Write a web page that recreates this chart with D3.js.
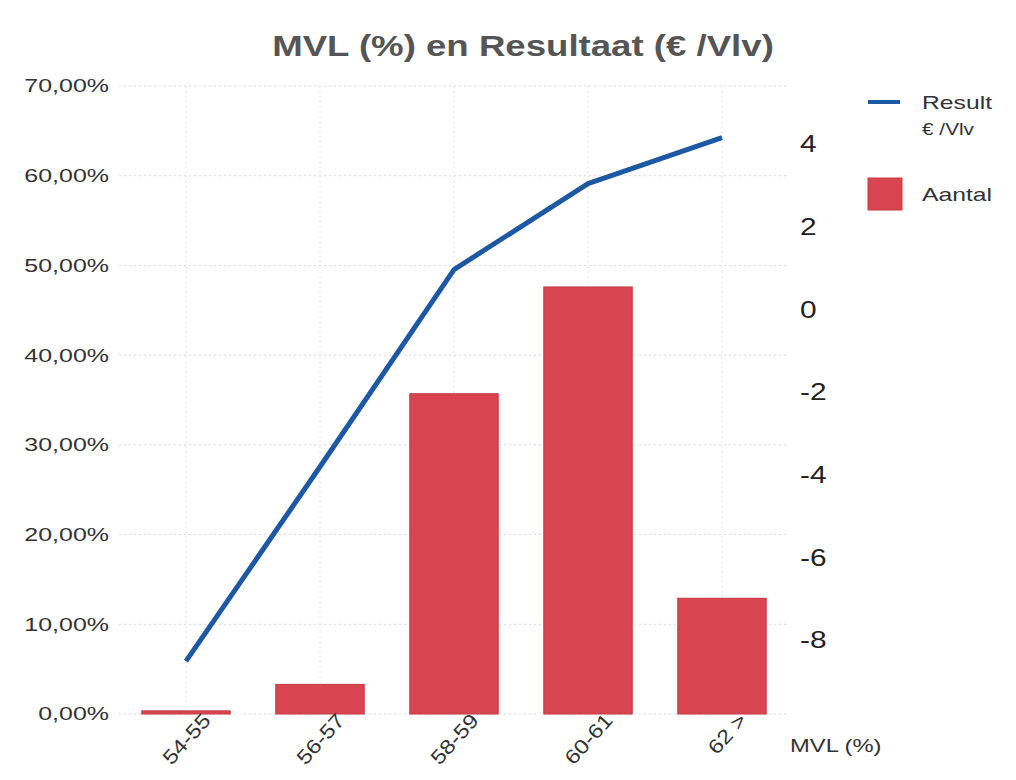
<!DOCTYPE html>
<html>
<head>
<meta charset="utf-8">
<script src="https://cdn.jsdelivr.net/npm/d3@7"></script>
<style>
  body { margin: 0; background: #fff; }
  text { font-family: "Liberation Sans", Arial, sans-serif; }
</style>
</head>
<body>
<div id="chart"></div>
<script>
// categories and values
var categories = ["54-55", "56-57", "58-59", "60-61", "62 >"];
var aantal = [0.0035, 0.033, 0.357, 0.476, 0.129];   // share, left axis
var result = [-8.5, -3.8, 0.97, 3.05, 4.16];          // € /Vlv, right axis
var leftTicks = [0, 0.1, 0.2, 0.3, 0.4, 0.5, 0.6, 0.7];
var rightTicks = [-8, -6, -4, -2, 0, 2, 4];

var width = 1016, height = 780;
var plot = { left: 119, right: 789, top: 86, bottom: 714 };

var svg = d3.select("#chart").append("svg")
    .attr("width", width)
    .attr("height", height);

var x = d3.scaleBand().domain(categories)
    .range([plot.left, plot.right]).paddingInner(0.34).paddingOuter(0.17);
var yLeft = d3.scaleLinear().domain([0, 0.7]).range([plot.bottom, plot.top]);
var yRight = d3.scaleLinear().domain([-9.78, 5.41]).range([plot.bottom, plot.top]);

var pct = function (d) { return d3.format(".2f")(d * 100).replace(".", ",") + "%"; };

// the source picture is a bit wide, so the text is stretched sideways
function stretch(sel, k) {
    sel.each(function () {
        var w = this.getComputedTextLength();
        d3.select(this).attr("textLength", w * k).attr("lengthAdjust", "spacingAndGlyphs");
    });
}

// faint dotted grid
var grid = svg.append("g").attr("class", "grid");
grid.selectAll("line.h").data(leftTicks).enter().append("line")
    .attr("class", "h")
    .attr("x1", plot.left).attr("x2", plot.right)
    .attr("y1", function (d) { return yLeft(d); })
    .attr("y2", function (d) { return yLeft(d); })
    .attr("stroke", "#d8d8d8").attr("stroke-width", 1)
    .attr("stroke-dasharray", "2,3");
grid.selectAll("line.v").data(categories).enter().append("line")
    .attr("class", "v")
    .attr("x1", function (d) { return x(d) + x.bandwidth() / 2; })
    .attr("x2", function (d) { return x(d) + x.bandwidth() / 2; })
    .attr("y1", plot.top).attr("y2", plot.bottom)
    .attr("stroke", "#e2e2e2").attr("stroke-width", 1)
    .attr("stroke-dasharray", "2,3");

// bars
svg.append("g").selectAll("rect").data(aantal).enter().append("rect")
    .attr("x", function (d, i) { return x(categories[i]); })
    .attr("y", function (d) { return yLeft(d); })
    .attr("width", x.bandwidth())
    .attr("height", function (d) { return Math.max(yLeft(0) - yLeft(d), 3); })
    .attr("fill", "#d8444f")
    .attr("stroke", "#c43a45").attr("stroke-width", 1);

// line
var line = d3.line()
    .x(function (d, i) { return x(categories[i]) + x.bandwidth() / 2; })
    .y(function (d) { return yRight(d); });
svg.append("path").datum(result)
    .attr("d", line)
    .attr("fill", "none")
    .attr("stroke", "#1d58a4")
    .attr("stroke-width", 5)
    .attr("stroke-linejoin", "round");

// left axis
var leftAxis = d3.axisLeft(yLeft).tickValues(leftTicks).tickFormat(pct).tickSize(0).tickPadding(10);
var gl = svg.append("g").attr("transform", "translate(" + plot.left + ",0)").call(leftAxis);
gl.select(".domain").remove();
gl.selectAll("text").attr("font-size", 18.5).attr("fill", "#333")
    .attr("font-family", "Liberation Sans, Arial, sans-serif");
stretch(gl.selectAll("text"), 1.35);

// right axis, plain hyphen for the minus
var rightAxis = d3.axisRight(yRight).tickValues(rightTicks)
    .tickFormat(function (d) { return String(d); }).tickSize(0).tickPadding(11);
var gr = svg.append("g").attr("transform", "translate(" + plot.right + ",0)").call(rightAxis);
gr.select(".domain").remove();
gr.selectAll("text").attr("font-size", 23).attr("fill", "#222")
    .attr("font-family", "Liberation Sans, Arial, sans-serif");
stretch(gr.selectAll("text"), 1.3);

// bottom axis, rotated labels
var bottomAxis = d3.axisBottom(x).tickSize(0).tickPadding(16);
var gb = svg.append("g").attr("transform", "translate(0," + plot.bottom + ")").call(bottomAxis);
gb.select(".domain").remove();
gb.selectAll("text")
    .attr("font-size", 20).attr("fill", "#333")
    .attr("font-family", "Liberation Sans, Arial, sans-serif")
    .style("text-anchor", "end")
    .attr("dx", "0.6em").attr("dy", "0.4em")
    .attr("transform", "rotate(-48)");
stretch(gb.selectAll("text"), 1.18);

var xTitle = svg.append("text")
    .attr("x", 790).attr("y", 752)
    .attr("font-size", 19).attr("fill", "#333")
    .text("MVL (%)");
stretch(xTitle, 1.25);

// title
var title = svg.append("text")
    .attr("x", 523).attr("y", 56)
    .attr("text-anchor", "middle")
    .attr("font-size", 30).attr("font-weight", "bold").attr("fill", "#555")
    .text("MVL (%) en Resultaat (€ /Vlv)");
stretch(title, 1.22);

// legend
var legend = svg.append("g");
legend.append("line")
    .attr("x1", 868).attr("x2", 900).attr("y1", 102).attr("y2", 102)
    .attr("stroke", "#1d58a4").attr("stroke-width", 4);
legend.append("text").attr("x", 922).attr("y", 109)
    .attr("font-size", 19).attr("fill", "#333").text("Result");
legend.append("text").attr("x", 922).attr("y", 135)
    .attr("font-size", 16).attr("fill", "#333").text("€ /Vlv");
legend.append("rect")
    .attr("x", 868).attr("y", 178).attr("width", 34).attr("height", 32)
    .attr("fill", "#d8444f").attr("stroke", "#c43a45");
legend.append("text").attr("x", 922).attr("y", 201)
    .attr("font-size", 19).attr("fill", "#333").text("Aantal");
stretch(legend.selectAll("text"), 1.3);
</script>
</body>
</html>
